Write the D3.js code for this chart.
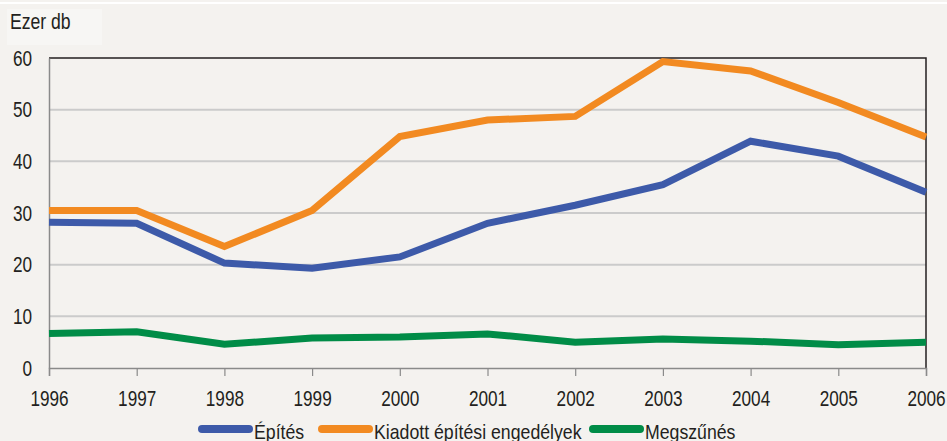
<!DOCTYPE html>
<html>
<meta charset="utf-8" />
<script src="https://d3js.org/d3.v7.min.js"></script>

<body>
    <style>
        body,
        html {
            margin: 0;
            padding: 0;
            background: #f4f2ef;
            overflow: hidden;
        }

        text {
            font-family: "Liberation Sans Narrow", "Arial Narrow", "Liberation Sans", sans-serif;
            fill: #231f20;
        }
    </style>

    <svg id="chart"></svg>

    <script>
        var years = [1996, 1997, 1998, 1999, 2000, 2001, 2002, 2003, 2004, 2005, 2006];
        var seriesNames = ["Építés", "Kiadott építési engedélyek", "Megszűnés"];
        var epites = [28.2, 28.0, 20.3, 19.3, 21.5, 28.0, 31.5, 35.5, 43.9, 41.0, 34.0];
        var engedelyek = [30.5, 30.5, 23.5, 30.5, 44.8, 48.0, 48.7, 59.3, 57.5, 51.4, 44.7];
        var megszunes = [6.7, 7.0, 4.6, 5.8, 6.0, 6.6, 5.0, 5.6, 5.2, 4.5, 5.0];
        var yTicks = [0, 10, 20, 30, 40, 50, 60];
        var colors = ["#3d5aa9", "#f28a21", "#008c47"];

        var width = 947, height = 441;
        var margins = { top: 58, left: 49, right: 21, bottom: 73 };
        // no narrow font installed, so squeeze the regular one
        var sx = 0.78;
        var legendSx = 0.885;

        var svg = d3.select("#chart")
            .attr("width", width)
            .attr("height", height);

        // top white stripe and label box
        svg.append("rect").attr("x", 0).attr("y", 2).attr("width", width).attr("height", 2).attr("fill", "#ffffff");
        svg.append("rect").attr("x", 7).attr("y", 9).attr("width", 95).attr("height", 36).attr("fill", "#f7f6f4");

        var x = d3.scaleLinear()
            .domain([1996, 2006])
            .range([margins.left, width - margins.right]);

        var y = d3.scaleLinear()
            .domain([0, 60])
            .range([height - margins.bottom, margins.top]);

        // gridlines
        svg.append("g").selectAll("line")
            .data(yTicks.filter(function (d) { return d > 0 && d < 60; }))
            .enter().append("line")
            .attr("x1", x(1996)).attr("x2", x(2006))
            .attr("y1", function (d) { return y(d); })
            .attr("y2", function (d) { return y(d); })
            .attr("stroke", "#cbcbcb")
            .attr("stroke-width", 2);

        // frame top and right
        svg.append("path")
            .attr("d", "M" + x(1996) + "," + y(60) + "H" + x(2006) + "V" + y(0))
            .attr("fill", "none")
            .attr("stroke", "#231f20")
            .attr("stroke-width", 1.5);

        // x axis
        var xAxis = svg.append("g")
            .attr("transform", "translate(0," + y(0) + ")")
            .call(d3.axisBottom(x).tickValues(years).tickFormat(d3.format("d")).tickSize(8).tickPadding(14));
        xAxis.select(".domain").attr("stroke", "#8a8a8a").attr("stroke-width", 1.5);
        xAxis.selectAll(".tick line").attr("stroke", "#8a8a8a").attr("stroke-width", 1.2);
        xAxis.selectAll("text")
            .attr("font-size", 22).style("font-family", null).attr("fill", "#231f20")
            .attr("transform", "scale(" + sx + ",1)");

        // y axis
        var yAxis = svg.append("g")
            .attr("transform", "translate(" + x(1996) + ",0)")
            .call(d3.axisLeft(y).tickValues(yTicks).tickSize(0).tickPadding(15));
        yAxis.select(".domain").attr("stroke", "#8a8a8a").attr("stroke-width", 1.5);
        yAxis.selectAll("text")
            .attr("font-size", 22).style("font-family", null).attr("fill", "#231f20")
            .attr("x", -17 / sx)
            .attr("transform", "scale(" + sx + ",1)");

        svg.append("text")
            .attr("transform", "translate(10,29) scale(0.8,1)")
            .attr("font-size", 22)
            .text("Ezer db");

        var line = d3.line()
            .x(function (d, i) { return x(years[i]); })
            .y(function (d) { return y(d); });

        var allSeries = [epites, engedelyek, megszunes];

        svg.append("g").selectAll("path")
            .data(allSeries)
            .enter().append("path")
            .attr("d", line)
            .attr("fill", "none")
            .attr("stroke", function (d, i) { return colors[i]; })
            .attr("stroke-width", 7)
            .attr("stroke-linejoin", "miter");

        // legend
        var legendX = [202, 322, 593];
        var legend = svg.append("g").selectAll("g")
            .data(seriesNames)
            .enter().append("g")
            .attr("transform", function (d, i) { return "translate(" + legendX[i] + ",429)"; });
        legend.append("line")
            .attr("x1", 0).attr("x2", 47)
            .attr("stroke", function (d, i) { return colors[i]; })
            .attr("stroke-width", 8)
            .attr("stroke-linecap", "round");
        legend.append("text")
            .attr("transform", "translate(52,10) scale(" + legendSx + ",1)")
            .attr("font-size", 20)
            .text(function (d) { return d; });
    </script>
</body>

</html>
